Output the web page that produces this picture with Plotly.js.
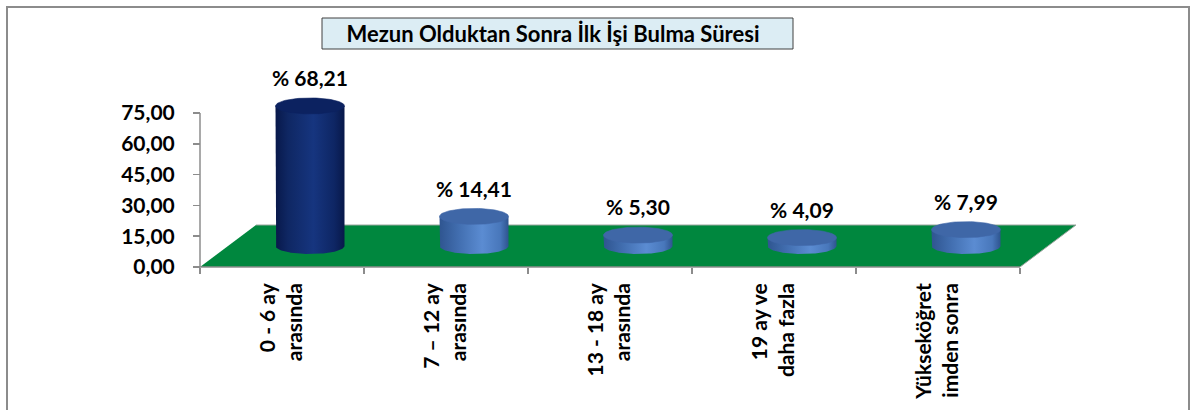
<!DOCTYPE html>
<html>
<head>
<meta charset="utf-8">
<script src="https://cdn.plot.ly/plotly-3.0.1.min.js"></script>
<style>
  html, body { margin: 0; padding: 0; background: #ffffff; }
  #chart { width: 1191px; height: 410px; }
</style>
</head>
<body>
<div id="chart"></div>
<script>
// ---------------- data ----------------
const chartTitle = "Mezun Olduktan Sonra İlk İşi Bulma Süresi";
const categories = [
  "0 - 6 ay<br>arasında",
  "7 – 12 ay<br>arasında",
  "13 - 18 ay<br>arasında",
  "19 ay ve<br>daha fazla",
  "Yükseköğret<br>imden sonra"
];
const values = [68.21, 14.41, 5.30, 4.09, 7.99];
const yTickVals = [0, 15, 30, 45, 60, 75];

// ---------------- geometry / style ----------------
const W = 1191, H = 410;
const L = 196, R = 1082, T = 40, B = 270;   // plot area in pixels
const axisX = 200, axisY = 267;             // front axes position in pixels
const pxPerCat = 164;
const pxPerUnit = 154 / 75;
const plotW = R - L, plotH = B - T;

const xRange = [-0.5 - (axisX - L) / pxPerCat, -0.5 + (R - axisX) / pxPerCat];
const yRange = [-(B - axisY) / pxPerUnit, (axisY - T) / pxPerUnit];

const floorDx = 56 / pxPerCat, floorDy = 42 / pxPerUnit;  // floor depth
const depthDx = floorDx / 2, depthDy = floorDy / 2;          // cylinders sit mid-depth
const rx = 34.5 / pxPerCat, ry = 8 / pxPerUnit;
const labelGap = 25 / pxPerUnit;

const font = "Lato, 'Open Sans', sans-serif";
const txtSize = 21;
const styleFirst = {
  body: [[0, '#08184a'], [0.18, '#0f2763'], [0.55, '#16357f'], [0.85, '#0e2664'], [1, '#08184a']],
  top: '#0c2260'
};
const styleRest = {
  body: [[0, '#2f5590'], [0.3, '#4370b2'], [0.62, '#5b8cd2'], [0.88, '#4877bb'], [1, '#2e548f']],
  top: '#3f67a7'
};

function px2paperX(p) { return (p - L) / plotW; }
function px2paperY(p) { return (B - p) / plotH; }
function fmt(v) { return v.toFixed(2).replace('.', ','); }

const traces = [];
const N = 48;
values.forEach((v, i) => {
  const st = i === 0 ? styleFirst : styleRest;
  const cx = i + depthDx, cy0 = depthDy, cy1 = depthDy + v;
  // body
  const bx = [cx - rx, cx - rx], by = [cy1, cy0];
  for (let k = 0; k <= N; k++) {
    const th = Math.PI + Math.PI * k / N;
    bx.push(cx + rx * Math.cos(th));
    by.push(cy0 + ry * Math.sin(th));
  }
  bx.push(cx + rx, cx - rx); by.push(cy1, cy1);
  traces.push({
    type: 'scatter', mode: 'lines', x: bx, y: by, fill: 'toself',
    fillgradient: { type: 'horizontal', colorscale: st.body },
    line: { width: 0 }, hoverinfo: 'skip', showlegend: false
  });
  // top ellipse
  const tx = [], ty = [];
  for (let k = 0; k <= 2 * N; k++) {
    const th = 2 * Math.PI * k / (2 * N);
    tx.push(cx + rx * Math.cos(th));
    ty.push(cy1 + ry * Math.sin(th));
  }
  traces.push({
    type: 'scatter', mode: 'lines', x: tx, y: ty, fill: 'toself',
    fillcolor: st.top, line: { width: 0.6, color: st.top }, hoverinfo: 'skip', showlegend: false
  });
});

// data labels
traces.push({
  type: 'scatter', mode: 'text',
  x: values.map((v, i) => i + depthDx),
  y: values.map(v => depthDy + v + labelGap),
  text: values.map(v => '% ' + fmt(v)),
  textposition: 'middle center',
  textfont: { family: font, size: txtSize, color: '#000000', weight: 'bold' },
  cliponaxis: false, hoverinfo: 'skip', showlegend: false
});

const nCat = categories.length;
const boundaries = [];
for (let k = 0; k <= nCat; k++) boundaries.push(k - 0.5);

const shapes = [
  // outer border
  { type: 'rect', xref: 'paper', yref: 'paper',
    x0: px2paperX(7), x1: px2paperX(1189), y0: px2paperY(420), y1: px2paperY(7),
    line: { color: '#8c8c8c', width: 2 }, fillcolor: 'rgba(0,0,0,0)', layer: 'below' },
  // title box
  { type: 'rect', xref: 'paper', yref: 'paper',
    x0: px2paperX(322), x1: px2paperX(793), y0: px2paperY(49), y1: px2paperY(18),
    line: { color: '#404040', width: 1 }, fillcolor: '#dcedf4', layer: 'above' },
  // floor
  { type: 'path', xref: 'x', yref: 'y', layer: 'below',
    path: `M ${-0.5},0 L ${nCat - 0.5},0 L ${nCat - 0.5 + floorDx},${floorDy} L ${-0.5 + floorDx},${floorDy} Z`,
    fillcolor: '#00873e', line: { width: 0 } },
  // floor back/right edges
  { type: 'path', xref: 'x', yref: 'y', layer: 'below',
    path: `M ${-0.5 + floorDx},${floorDy} L ${nCat - 0.5 + floorDx},${floorDy} L ${nCat - 0.5},0`,
    line: { color: '#9aa59e', width: 1 } },
  // front x axis line
  { type: 'line', xref: 'x', yref: 'y', x0: -0.5, x1: nCat - 0.5, y0: 0, y1: 0,
    line: { color: '#8c8c8c', width: 1.5 }, layer: 'above' },
  // y axis line
  { type: 'line', xref: 'x', yref: 'y', x0: -0.5, x1: -0.5, y0: 0, y1: yTickVals[yTickVals.length - 1],
    line: { color: '#8c8c8c', width: 1.5 }, layer: 'above' }
];

const layout = {
  width: W, height: H,
  margin: { l: L, r: W - R, t: T, b: H - B, pad: 0 },
  paper_bgcolor: '#ffffff', plot_bgcolor: 'rgba(0,0,0,0)',
  showlegend: false,
  title: {
    text: chartTitle,
    font: { family: font, size: 22, color: '#000000', weight: 'bold' },
    xref: 'container', yref: 'container',
    x: 553 / W, y: 1 - 34 / H, xanchor: 'center', yanchor: 'middle'
  },
  xaxis: {
    type: 'linear', range: xRange, anchor: 'free', position: (B - axisY) / plotH,
    showgrid: false, zeroline: false, showline: false,
    tickmode: 'array', tickvals: categories.map((c, i) => i), ticktext: categories,
    ticks: '', tickangle: -90, ticklabelstandoff: 11,
    tickfont: { family: font, size: txtSize, color: '#000000', weight: 'bold' },
    minor: { tickmode: 'array', tickvals: boundaries, ticks: 'outside', ticklen: 6,
             tickcolor: '#8c8c8c', tickwidth: 1.5, showgrid: false }
  },
  yaxis: {
    range: yRange, anchor: 'free', position: (axisX - L) / plotW,
    showgrid: false, zeroline: false, showline: false,
    tickmode: 'array', tickvals: yTickVals, ticktext: yTickVals.map(fmt),
    ticks: 'outside', ticklen: 7, tickcolor: '#8c8c8c', tickwidth: 1.5,
    ticklabelstandoff: 14,
    tickfont: { family: font, size: txtSize, color: '#000000', weight: 'bold' }
  },
  shapes: shapes
};

Plotly.newPlot('chart', traces, layout, { staticPlot: true, displayModeBar: false });
</script>
</body>
</html>
